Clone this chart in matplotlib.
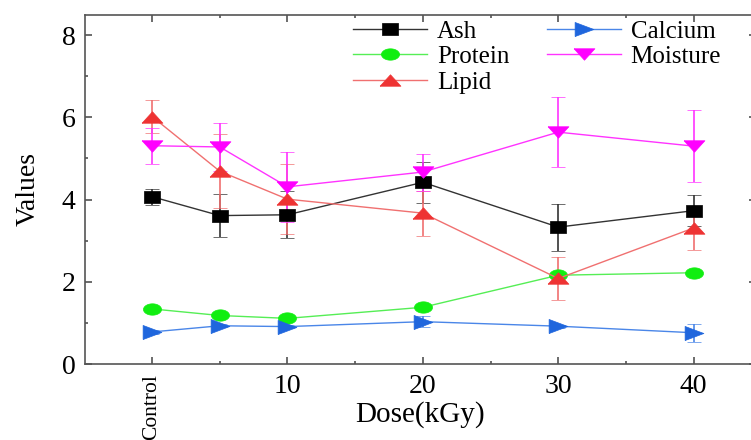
import numpy as np
import matplotlib
matplotlib.use("Agg")
import matplotlib.pyplot as plt
from matplotlib.ticker import MultipleLocator

# dose in kGy (0 = control)
dose = [0, 5, 10, 20, 30, 40]
tick_pos = [0, 10, 20, 30, 40]
tick_labels = ["Control", "10", "20", "30", "40"]

ash = [4.07, 3.61, 3.63, 4.42, 3.33, 3.73]
ash_err = [0.19, 0.53, 0.57, 0.50, 0.57, 0.38]
protein = [1.34, 1.18, 1.11, 1.38, 2.16, 2.22]
protein_err = [0.04, 0.04, 0.04, 0.06, 0.05, 0.04]
lipid = [6.02, 4.69, 4.01, 3.67, 2.08, 3.31]
lipid_err = [0.40, 0.90, 0.85, 0.55, 0.52, 0.53]
calcium = [0.78, 0.93, 0.91, 1.03, 0.92, 0.76]
calcium_err = [0.04, 0.04, 0.04, 0.13, 0.04, 0.22]
moisture = [5.31, 5.28, 4.31, 4.67, 5.64, 5.30]
moisture_err = [0.44, 0.58, 0.85, 0.45, 0.85, 0.88]

plt.rcParams['font.family'] = ['Liberation Serif', 'DejaVu Serif']

# the picture is a bit wider than tall, so the markers are wide too
t = np.linspace(0, 2 * np.pi, 61)
m_square = [(-1, -0.7), (1, -0.7), (1, 0.7), (-1, 0.7), (-1, -0.7)]
m_circle = list(zip(np.cos(t), 0.63 * np.sin(t)))
m_up = [(-1, -0.55), (1, -0.55), (0, 0.55), (-1, -0.55)]
m_down = [(-1, 0.55), (1, 0.55), (0, -0.55), (-1, 0.55)]
m_right = [(-1, -0.75), (-1, 0.75), (1, 0), (-1, -0.75)]

series = [
    ("Ash", ash, ash_err, "black", "#333333", m_square, 11.5),
    ("Protein", protein, protein_err, "#11ee11", "#55ee55", m_circle, 13),
    ("Lipid", lipid, lipid_err, "#ee3333", "#f07070", m_up, 15),
    ("Calcium", calcium, calcium_err, "#1f66dd", "#4a86e8", m_right, 13.5),
    ("Moisture", moisture, moisture_err, "#ff00ff", "#ff33ff", m_down, 15),
]

fig = plt.figure(figsize=(7.51, 4.40), dpi=100)
ax = fig.add_axes([85 / 751, 1 - 364 / 440, 671 / 751, 349 / 440])

handles, names = [], []
for name, vals, err, mcol, lcol, mk, ms in series:
    eb = ax.errorbar(dose, vals, yerr=err, color=lcol, lw=1.0,
                     ecolor=lcol, elinewidth=1.2, capsize=5, capthick=1.2,
                     marker=mk, ms=ms, mfc=mcol, mec=mcol, mew=0.5)
    handles.append(eb.lines[0])
    names.append(name)

ax.set_xlim(-4.95, 44.6)
ax.set_ylim(0, 8.49)
ax.set_xticks(tick_pos)
ax.set_xticklabels(tick_labels)
ax.xaxis.set_minor_locator(MultipleLocator(5))
ax.set_yticks([0, 2, 4, 6, 8])
ax.yaxis.set_minor_locator(MultipleLocator(1))

ax.tick_params(which='both', direction='in', top=True, right=True,
               color='#444444', width=1.1)
ax.tick_params(which='major', length=5, labelsize=20, pad=7)
ax.tick_params(which='minor', length=2.5)
for s in ax.spines.values():
    s.set_color('#555555')
    s.set_linewidth(1.2)

ctrl = ax.get_xticklabels()[0]
ctrl.set_rotation(90)
ctrl.set_fontsize(15.5)

ax.set_xlabel("Dose(kGy)", fontsize=21)
ax.xaxis.set_label_coords(0.499, -0.105)
ax.set_ylabel("Values", fontsize=20)
ax.yaxis.set_label_coords(-0.066, 0.5)

ax.legend(handles, names, loc='upper left', bbox_to_anchor=(0.399, 0.985),
          ncol=2, frameon=False, fontsize=18, handlelength=2.96,
          handletextpad=0.4, columnspacing=1.5, labelspacing=0.12,
          borderpad=0, borderaxespad=0)

fig.savefig("out.png", dpi=100)
